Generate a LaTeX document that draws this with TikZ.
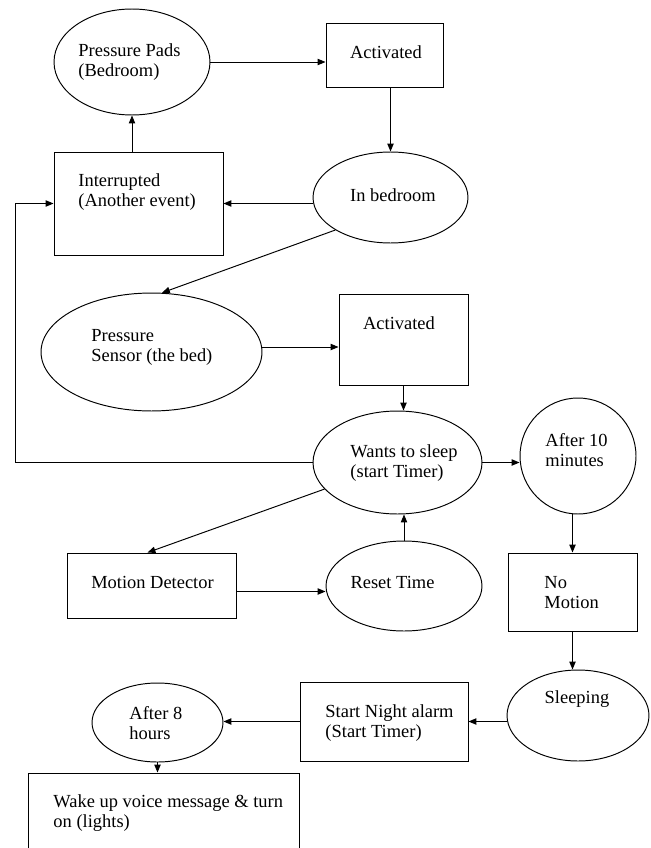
\documentclass[tikz,border=0pt]{standalone}
\usepackage{fontspec}
\setmainfont{Liberation Serif}
\usetikzlibrary{shapes.geometric,arrows.meta}

\tikzset{
  box/.style 2 args={draw, rectangle, minimum width=#1, minimum height=#2, inner sep=0pt},
  oval/.style 2 args={draw, ellipse, minimum width=#1, minimum height=#2, inner sep=0pt},
  lbl/.style={inner sep=0pt, align=left, font=\fontsize{10.5}{11.3}\selectfont},
  arr/.style={-{Triangle[length=4.5pt,width=3.6pt]}},
}

\begin{document}
\begin{tikzpicture}[x=0.02cm, y=-0.02cm, line width=0.55pt]
 \useasboundingbox (0,0) rectangle (651,848);

 %top loop
 \node[oval={3.12cm}{2.12cm}] (pads) at (132,62) {};
 \node[box={2.34cm}{1.28cm}] (act1) at (384.5,55) {};
 \node[box={3.38cm}{2.06cm}] (intr) at (138.5,203.5) {};
 \node[oval={3.10cm}{1.82cm}] (bedroom) at (390.5,197.5) {};

 %bed
 \node[oval={4.42cm}{2.36cm}] (sensor) at (151.5,352) {};
 \node[box={2.58cm}{1.82cm}] (act2) at (403.5,339.5) {};
 \node[oval={3.38cm}{2.06cm}] (wants) at (397.5,462.5) {};
 \node[circle, draw, minimum size=2.32cm, inner sep=0pt] (after10) at (578,456) {};

 %motion
 \node[box={3.38cm}{1.30cm}] (motion) at (151.5,585.5) {};
 \node[oval={3.12cm}{1.80cm}] (reset) at (404,586) {};
 \node[box={2.58cm}{1.56cm}] (nomotion) at (572.5,592) {};

 %night
 \node[oval={2.84cm}{1.82cm}] (sleeping) at (578,715.5) {};
 \node[box={3.36cm}{1.58cm}] (night) at (384,721.5) {};
 \node[oval={2.62cm}{1.58cm}] (after8) at (157.5,722.5) {};
 \node[box={5.44cm}{1.94cm}] (wake) at (164,821.5) {};

 %texts
 \node[lbl, anchor=west] (pads-t) at (78,62) {Pressure Pads\\(Bedroom)};
 \node[lbl] (act1-t) at (386,52) {Activated};
 \node[lbl] (bedroom-t) at (393,195) {In bedroom};
 \node[lbl, anchor=west] (intr-t) at (78,192) {Interrupted\\(Another event)};
 \node[lbl, anchor=west] (sensor-t) at (91,347) {Pressure\\Sensor (the bed)};
 \node[lbl] (act2-t) at (399,323) {Activated};
 \node[lbl, anchor=west] (wants-t) at (350,463) {Wants to sleep\\(start Timer)};
 \node[lbl, anchor=west] (after10-t) at (545,450) {After 10\\minutes};
 \node[lbl] (motion-t) at (152.5,582) {Motion Detector};
 \node[lbl] (reset-t) at (392.5,582) {Reset Time};
 \node[lbl, anchor=west] (nomotion-t) at (544,592.5) {No\\Motion};
 \node[lbl] (sleeping-t) at (577,699) {Sleeping};
 \node[lbl, anchor=west] (night-t) at (325,723) {Start Night alarm\\(Start Timer)};
 \node[lbl, anchor=west] (after8-t) at (129,723) {After 8\\hours};
 \node[lbl, anchor=west] (wake-t) at (53,813) {Wake up voice message \& turn\\on (lights)};

 %arrows
 \coordinate (s-out) at ([yshift=0.1cm]sensor.east);
 \coordinate (m-in) at ([xshift=-0.08cm]motion.north);
 \coordinate (m-out) at ([yshift=-0.12cm]motion.east);
 \coordinate (loop) at (15,462.5);
 \foreach \s/\t in {pads.east/pads.east -| act1.west,
                    act1.south -| bedroom.north/bedroom.north,
                    intr.east -| bedroom.west/intr.east,
                    intr.north -| pads.south/pads.south,
                    bedroom.south west/sensor.80,
                    s-out/s-out -| act2.west,
                    act2.south/act2.south |- wants.north,
                    wants.east/wants.east -| after10.west,
                    wants.200/m-in,
                    m-out/m-out -| reset.west,
                    reset.north/reset.north |- wants.south,
                    nomotion.north |- after10.south/nomotion.north,
                    nomotion.south/nomotion.south |- sleeping.north,
                    night.east -| sleeping.west/night.east,
                    night.west/night.west -| after8.east,
                    after8.south/after8.south |- wake.north} {
   \draw[arr] (\s) -- (\t);
 }
 \draw[arr] (wants.west) -- (loop) |- (intr.west);

\end{tikzpicture}
\end{document}
